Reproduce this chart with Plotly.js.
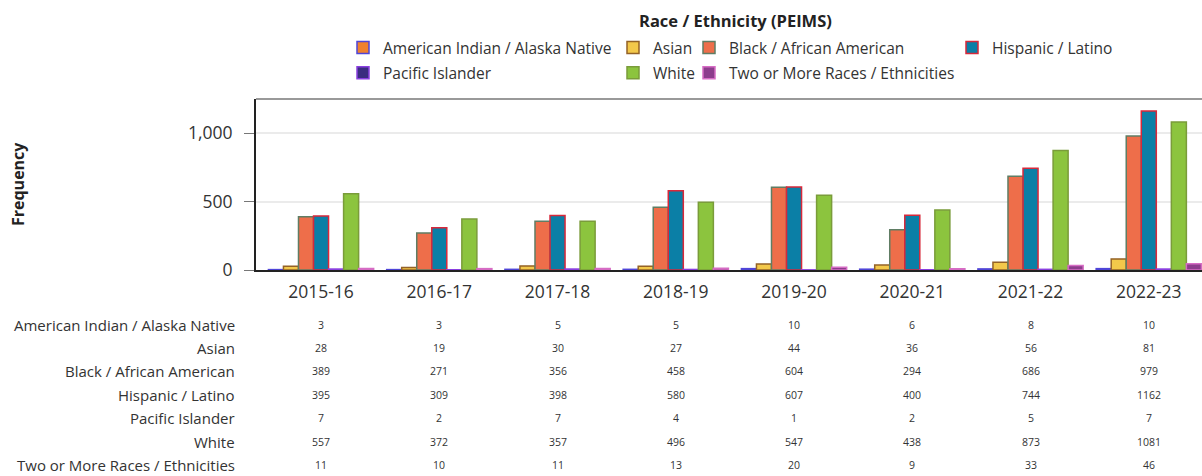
<!DOCTYPE html>
<html>
<head>
<meta charset="utf-8">
<script src="https://cdn.plot.ly/plotly-3.0.1.min.js"></script>
<style>
html, body { margin: 0; padding: 0; overflow: hidden; background: #fff; }
#chart { width: 1202px; height: 476px; }
</style>
</head>
<body>
<div id="chart"></div>
<script>
// ---- data ----
const years = ["2015-16", "2016-17", "2017-18", "2018-19", "2019-20", "2020-21", "2021-22", "2022-23"];
const groups = ["American Indian / Alaska Native", "Asian", "Black / African American", "Hispanic / Latino",
                "Pacific Islander", "White", "Two or More Races / Ethnicities"];
const americanIndian = [3, 3, 5, 5, 10, 6, 8, 10];
const asian          = [28, 19, 30, 27, 44, 36, 56, 81];
const black          = [389, 271, 356, 458, 604, 294, 686, 979];
const hispanic       = [395, 309, 398, 580, 607, 400, 744, 1162];
const pacific        = [7, 2, 7, 4, 1, 2, 5, 7];
const white          = [557, 372, 357, 496, 547, 438, 873, 1081];
const twoOrMore      = [11, 10, 11, 13, 20, 9, 33, 46];
const yTickVals = [0, 500, 1000];
const yTickText = ["0", "500", "1,000"];

const seriesValues = [americanIndian, asian, black, hispanic, pacific, white, twoOrMore];

// ---- styles ----
const FONT = "Open Sans, Noto Sans, sans-serif";
const fills   = ["#f0812e", "#f3c84a", "#ee6e4a", "#0b7fa6", "#3b2d80", "#8cc43e", "#8c3d8c"];
const borders = ["#4f45d8", "#946226", "#5f7d64", "#d8283a", "#8a40e0", "#7a9c3a", "#d66cc4"];
const legendIds = ["legend", "legend2", "legend3", "legend4", "legend", "legend2", "legend3"];

const traces = groups.map((g, i) => ({
  type: "bar",
  name: g,
  x: years,
  y: seriesValues[i],
  legend: legendIds[i],
  legendgroup: "g" + i,
  marker: { color: fills[i], line: { color: borders[i], width: 1.5 } },
  hovertemplate: "%{x}<br>" + g + ": %{y}<extra></extra>"
}));

// ---- table below the chart (annotations) ----
const annotations = [];
const rowY0 = 324.5, rowStep = 23.4; // pixel positions
const plotLeft = 256, plotWidth = 946, plotTop = 99, plotBottom = 270;
function pxToPaperY(py) { return (plotBottom - py) / (plotBottom - plotTop); }
function pxToPaperX(px) { return (px - plotLeft) / plotWidth; }
groups.forEach((g, r) => {
  const py = rowY0 + r * rowStep;
  annotations.push({
    xref: "paper", yref: "paper", x: pxToPaperX(237), y: pxToPaperY(py),
    xanchor: "right", yanchor: "middle", showarrow: false,
    text: g, font: { family: FONT, size: 15, color: "#333" }
  });
  years.forEach((yr, c) => {
    annotations.push({
      xref: "x", yref: "paper", x: yr, y: pxToPaperY(py),
      xanchor: "center", yanchor: "middle", showarrow: false,
      text: String(seriesValues[r][c]), font: { family: FONT, size: 10.5, color: "#333" }
    });
  });
});
annotations.push({
  xref: "paper", yref: "paper", x: pxToPaperX(735), y: pxToPaperY(21),
  xanchor: "center", yanchor: "middle", showarrow: false,
  text: "<b>Race / Ethnicity (PEIMS)</b>", font: { family: FONT, size: 16.5, color: "#222" }
});
annotations.push({
  xref: "paper", yref: "paper", x: pxToPaperX(18), y: pxToPaperY(184),
  xanchor: "center", yanchor: "middle", showarrow: false, textangle: -90,
  text: "<b>Frequency</b>", font: { family: FONT, size: 16, color: "#222" }
});

function legendAt(leftPx) {
  return {
    orientation: "v", xref: "container", yref: "container",
    x: leftPx / 1202, xanchor: "left", y: 1 - 31 / 476, yanchor: "top",
    font: { family: FONT, size: 15.5, color: "#333" }, bgcolor: "rgba(0,0,0,0)",
    traceorder: "grouped", tracegroupgap: 2
  };
}

const layout = {
  width: 1202, height: 476,
  margin: { l: 256, r: 0, t: 99, b: 206, pad: 0, autoexpand: false },
  paper_bgcolor: "#fff", plot_bgcolor: "#fff",
  font: { family: FONT, color: "#333" },
  barmode: "group", bargap: 0.11, bargroupgap: 0,
  showlegend: true,
  legend: legendAt(343),
  legend2: legendAt(613),
  legend3: legendAt(689),
  legend4: legendAt(952),
  xaxis: {
    type: "category", range: [-0.55, 7.45], fixedrange: true, automargin: false,
    showline: true, linecolor: "#222", linewidth: 2,
    ticks: "outside", ticklen: 5, tickcolor: "rgba(0,0,0,0)",
    tickfont: { family: FONT, size: 17.5, color: "#333" },
    showgrid: false, zeroline: false
  },
  yaxis: {
    range: [0, 1250], fixedrange: true, automargin: false,
    tickvals: yTickVals, ticktext: yTickText,
    showline: true, linecolor: "#222", linewidth: 2,
    ticks: "outside", ticklen: 10, tickcolor: "#777", tickwidth: 1,
    ticklabelstandoff: 8,
    tickfont: { family: FONT, size: 17.5, color: "#333" },
    showgrid: true, gridcolor: "#ebebeb", gridwidth: 1.5,
    zeroline: false
  },
  shapes: [{
    type: "line", xref: "paper", yref: "paper", x0: 0, x1: 1, y0: 1, y1: 1,
    line: { color: "#999", width: 2 }
  }],
  annotations: annotations
};

Plotly.newPlot("chart", traces, layout, { displayModeBar: false, responsive: false });
</script>
</body>
</html>
